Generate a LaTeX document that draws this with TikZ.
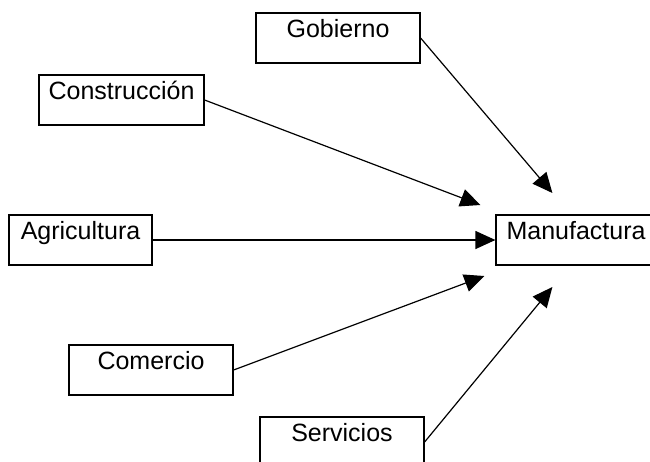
\documentclass[tikz,border=0pt]{standalone}
\usepackage{fontspec}
\setmainfont{Liberation Sans}
\usetikzlibrary{arrows.meta,calc}
\begin{document}
\begin{tikzpicture}[x=1pt,y=-1pt,
  box/.style={draw, line width=1.2pt, inner sep=0pt, minimum height=50pt,
    text height=24pt, text depth=26pt, font=\fontsize{25}{30}\selectfont},
  flow/.style={line width=1.2pt, -{Triangle[length=20pt,width=18pt]}}]
\useasboundingbox (0,0) rectangle (650,461);
\node[box, minimum width=164pt] (gob) at (338,38) {Gobierno};
\node[box, minimum width=165pt] (con) at (121.5,100) {Construcción};
\node[box, minimum width=143pt] (agr) at (80.5,240) {Agricultura};
\node[box, minimum width=160pt] (man) at (576,240) {Manufactura};
\node[box, minimum width=164pt] (com) at (151,370) {Comercio};
\node[box, minimum width=164pt] (ser) at (342,442) {Servicios};
\coordinate (tg) at ($(man.west)+(57,-47)$);
\coordinate (tc) at ($(man.west)+(-15,-35)$);
\coordinate (tm) at ($(man.west)+(-11,36)$);
\coordinate (ts) at ($(man.west)+(57,47)$);
\draw[flow] (gob.east) -- (tg);
\draw[flow] (con.east) -- (tc);
\draw[flow] (agr.east) -- (man.west);
\draw[flow] (com.east) -- (tm);
\draw[flow] (ser.east) -- (ts);
\end{tikzpicture}
\end{document}
